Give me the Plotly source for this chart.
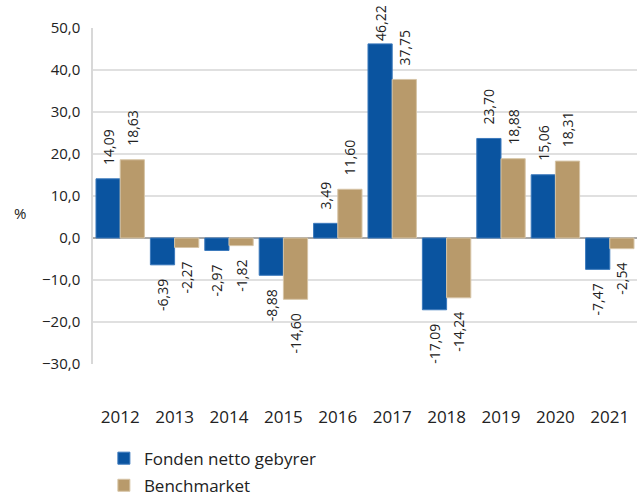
import plotly.graph_objects as go

years = ["2012", "2013", "2014", "2015", "2016", "2017", "2018", "2019", "2020", "2021"]
fonden = [14.09, -6.39, -2.97, -8.88, 3.49, 46.22, -17.09, 23.70, 15.06, -7.47]
bench = [18.63, -2.27, -1.82, -14.60, 11.60, 37.75, -14.24, 18.88, 18.31, -2.54]
series_names = ["Fonden netto gebyrer", "Benchmarket"]
y_ticks = [-30, -20, -10, 0, 10, 20, 30, 40, 50]

BLUE = "#0A54A0"
TAN = "#B89A6B"
FONT = "Open Sans"
PAD = "\u00a0\u00a0\u00a0"
Y_MAX = 50


def labels(vals):
    out = []
    for v in vals:
        s = f"{v:.2f}".replace(".", ",")
        if v > Y_MAX - 10:
            out.append(s)  # label squeezed against the top, as in the source
        elif v >= 0:
            out.append(PAD + s)
        else:
            out.append(s + PAD)
    return out


fig = go.Figure()
for i, (name, vals, col, edge) in enumerate([(series_names[0], fonden, BLUE, "#3B79BC"),
                                             (series_names[1], bench, TAN, "#D6C4A6")]):
    fig.add_trace(go.Bar(
        x=years, y=vals, name=name, legendgroup=f"g{i}",
        marker=dict(color=col, line=dict(color=edge, width=1)),
        text=labels(vals), textposition="outside", textangle=-90,
        constraintext="none",
        textfont=dict(family=FONT, size=14, color="#222222"),
        cliponaxis=False,
    ))

fig.update_layout(
    width=639, height=496,
    margin=dict(l=93, r=2, t=28, b=132, autoexpand=False),
    paper_bgcolor="white", plot_bgcolor="white",
    barmode="group", bargap=0.11, bargroupgap=0,
    separators=", ",
    font=dict(family=FONT, color="#222222"),
    uniformtext=dict(mode=False),
    legend=dict(
        orientation="v", x=0.02, xanchor="left", y=-0.228, yanchor="top",
        font=dict(family=FONT, size=17, color="#222222"),
        itemwidth=30, tracegroupgap=2,
    ),
    showlegend=True,
)
fig.update_xaxes(
    showgrid=False, showline=False, ticks="",
    tickfont=dict(family=FONT, size=17, color="#222222"),
    ticklabelstandoff=41, automargin=False,
)
fig.update_yaxes(
    range=[-30, Y_MAX], tickvals=y_ticks, tickformat=".1f",
    showgrid=True, gridcolor="#E0E0E0", gridwidth=1.5,
    zeroline=True, zerolinecolor="#A8A8A8", zerolinewidth=2,
    showline=True, linecolor="#D8D8D8", linewidth=1.5,
    ticks="", ticklabelstandoff=8, automargin=False,
    tickfont=dict(family=FONT, size=15, color="#222222"),
)
fig.add_annotation(text="%", xref="paper", yref="paper", x=-0.149, y=0.449,
                   showarrow=False, font=dict(family=FONT, size=15, color="#222222"))

fig.write_html("out.html", config={"displayModeBar": False},
               post_script="document.body.style.margin='0';")
